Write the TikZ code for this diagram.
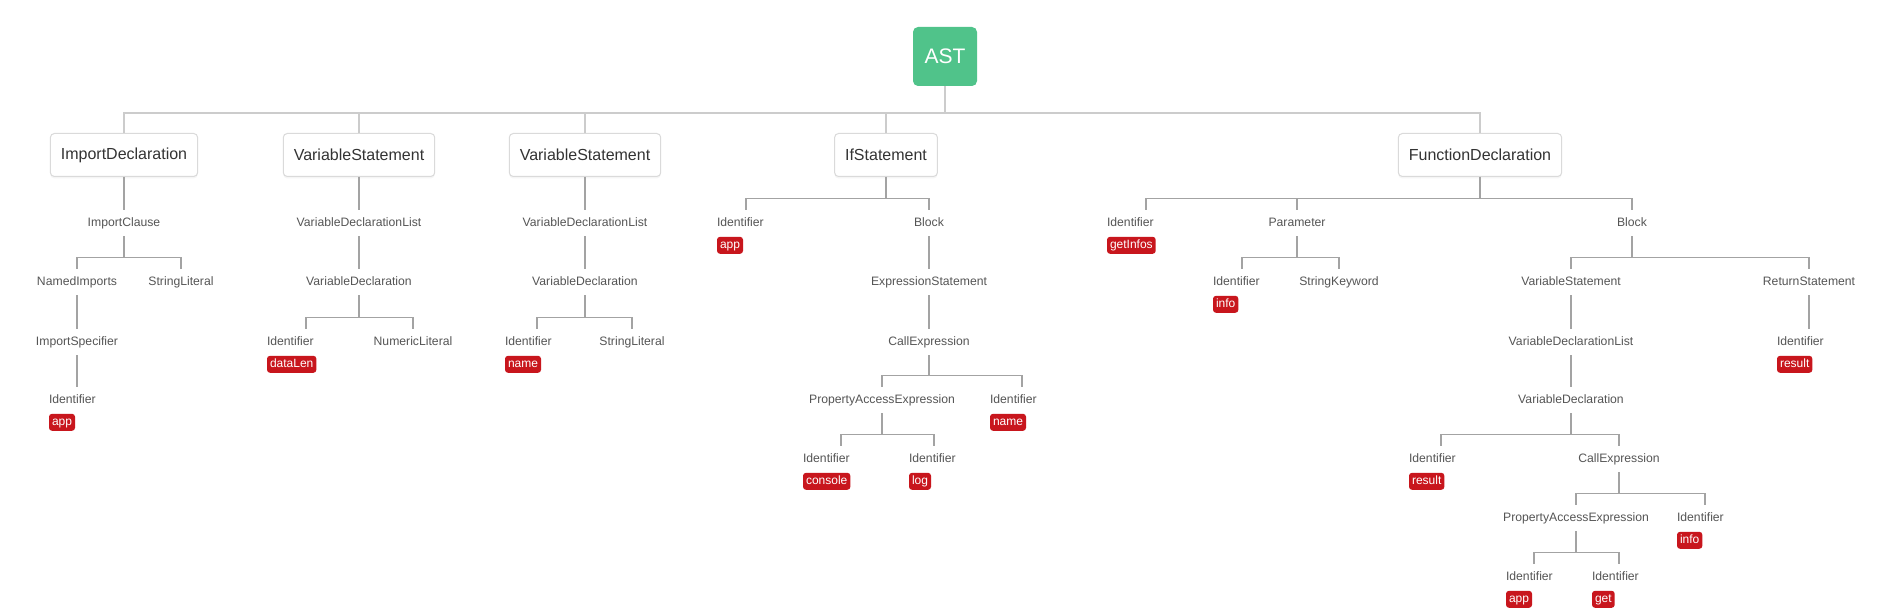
\documentclass[tikz,border=0pt]{standalone}
\usepackage{fontspec}
\setmainfont{Liberation Sans}
\usetikzlibrary{calc,positioning,shadows}
\definecolor{astgreen}{HTML}{50C38A}
\definecolor{tagred}{HTML}{C8161D}
\definecolor{boxline}{HTML}{DADADA}
\definecolor{trunkline}{HTML}{CCCCCC}
\definecolor{linkline}{HTML}{A3A3A3}
\definecolor{labeltext}{HTML}{555555}
\definecolor{boxtext}{HTML}{333333}

\tikzset{
	astbox/.style={fill=astgreen,text=white,rounded corners=2.5pt,minimum width=32pt,minimum height=29.5pt,inner sep=0pt,font=\fontsize{10.5}{12}\selectfont},
	stmtbox/.style={draw=boxline,line width=0.5pt,fill=white,rounded corners=2pt,minimum height=21.5pt,inner xsep=5.25pt,inner ysep=0pt,text=boxtext,font=\fontsize{8}{9.6}\selectfont,drop shadow={opacity=0.08,shadow xshift=0pt,shadow yshift=-1pt}},
	kind/.style={inner sep=0pt,minimum height=13pt,text height=4.6pt,text depth=1.3pt,text=labeltext,font=\fontsize{6.1}{7.3}\selectfont},
	ident/.style={kind,align=left,text width=#1},
	ident/.default=28pt,
	tag/.style={anchor=north west,fill=tagred,text=white,rounded corners=1.5pt,inner xsep=1.5pt,inner ysep=0pt,minimum height=8.5pt,text height=4.4pt,text depth=1.3pt,font=\fontsize{6}{7.2}\selectfont},
	trunk/.style={draw=trunkline,line width=1pt},
	link/.style={draw=linkline,line width=0.6pt}
}

\begin{document}
\begin{tikzpicture}[x=0.5pt,y=-0.5pt]
	\useasboundingbox (0,0) rectangle (1890,609);
	\fill[white] (0,0) rectangle (1890,609);

	\node[astbox] (ast) at (945,56.5) {AST};

	\node[stmtbox] (imp) at (124,155) {ImportDeclaration};
	\node[stmtbox] (vsa) at (359,155) {VariableStatement};
	\node[stmtbox] (vsb) at (585,155) {VariableStatement};
	\node[stmtbox] (ifs) at (886,155) {IfStatement};
	\node[stmtbox] (fnd) at (1480,155) {FunctionDeclaration};

	\node[kind] (icl) at (124,223) {ImportClause};
	\node[kind] (nim) at (77,282) {NamedImports};
	\node[kind] (istr) at (181,282) {StringLiteral};
	\node[kind] (isp) at (77,342) {ImportSpecifier};
	\node[ident=28pt] (iid) at (77,400) {Identifier};
	\node[tag] (iidv) at (iid.south west) {app};

	\node[kind] (alst) at (359,223) {VariableDeclarationList};
	\node[kind] (adcl) at (359,282) {VariableDeclaration};
	\node[ident=39pt] (aid) at (306,342) {Identifier};
	\node[tag] (aidv) at (aid.south west) {dataLen};
	\node[kind] (anum) at (413,342) {NumericLiteral};

	\node[kind] (blst) at (585,223) {VariableDeclarationList};
	\node[kind] (bdcl) at (585,282) {VariableDeclaration};
	\node[ident=32pt] (bid) at (537,342) {Identifier};
	\node[tag] (bidv) at (bid.south west) {name};
	\node[kind] (bstr) at (632,342) {StringLiteral};

	\node[ident=29pt] (fid) at (746,223) {Identifier};
	\node[tag] (fidv) at (fid.south west) {app};
	\node[kind] (fblk) at (929,223) {Block};
	\node[kind] (fexp) at (929,282) {ExpressionStatement};
	\node[kind] (fcall) at (929,342) {CallExpression};
	\node[kind] (fpae) at (882,400) {PropertyAccessExpression};
	\node[ident=32pt] (fnm) at (1022,400) {Identifier};
	\node[tag] (fnmv) at (fnm.south west) {name};
	\node[ident=38pt] (fcon) at (841,459) {Identifier};
	\node[tag] (fconv) at (fcon.south west) {console};
	\node[ident=25pt] (flog) at (934,459) {Identifier};
	\node[tag] (flogv) at (flog.south west) {log};

	\node[ident=39pt] (gid) at (1146,223) {Identifier};
	\node[tag] (gidv) at (gid.south west) {getInfos};
	\node[kind] (gpar) at (1297,223) {Parameter};
	\node[kind] (gblk) at (1632,223) {Block};
	\node[ident=29pt] (gpid) at (1242,282) {Identifier};
	\node[tag] (gpidv) at (gpid.south west) {info};
	\node[kind] (gkw) at (1339,282) {StringKeyword};
	\node[kind] (gvs) at (1571,282) {VariableStatement};
	\node[kind] (gret) at (1809,282) {ReturnStatement};
	\node[kind] (glst) at (1571,342) {VariableDeclarationList};
	\node[ident=32pt] (grid) at (1809,342) {Identifier};
	\node[tag] (gridv) at (grid.south west) {result};
	\node[kind] (gdcl) at (1571,400) {VariableDeclaration};
	\node[ident=32pt] (gres) at (1441,459) {Identifier};
	\node[tag] (gresv) at (gres.south west) {result};
	\node[kind] (gcall) at (1619,459) {CallExpression};
	\node[kind] (gpae) at (1576,518) {PropertyAccessExpression};
	\node[ident=28pt] (ginf) at (1705,518) {Identifier};
	\node[tag] (ginfv) at (ginf.south west) {info};
	\node[ident=28pt] (gapp) at (1534,577) {Identifier};
	\node[tag] (gappv) at (gapp.south west) {app};
	\node[ident=27pt] (gget) at (1619,577) {Identifier};
	\node[tag] (ggetv) at (gget.south west) {get};

	\foreach \c in {imp,vsa,vsb,ifs,fnd}
		\draw[trunk] (ast.south) |- ($(\c.north)+(0,-20)$) -- (\c.north);

	\foreach \p/\c in {imp/icl,icl/nim,icl/istr,nim/isp,isp/iid,
		vsa/alst,alst/adcl,adcl/aid,adcl/anum,
		vsb/blst,blst/bdcl,bdcl/bid,bdcl/bstr,
		ifs/fid,ifs/fblk,fblk/fexp,fexp/fcall,fcall/fpae,fcall/fnm,fpae/fcon,fpae/flog,
		fnd/gid,fnd/gpar,fnd/gblk,gpar/gpid,gpar/gkw,gblk/gvs,gblk/gret,
		gvs/glst,gret/grid,glst/gdcl,gdcl/gres,gdcl/gcall,gcall/gpae,gcall/ginf,gpae/gapp,gpae/gget}
		\draw[link] (\p.south) |- ($(\c.north)+(0,-11)$) -- (\c.north);
\end{tikzpicture}
\end{document}
